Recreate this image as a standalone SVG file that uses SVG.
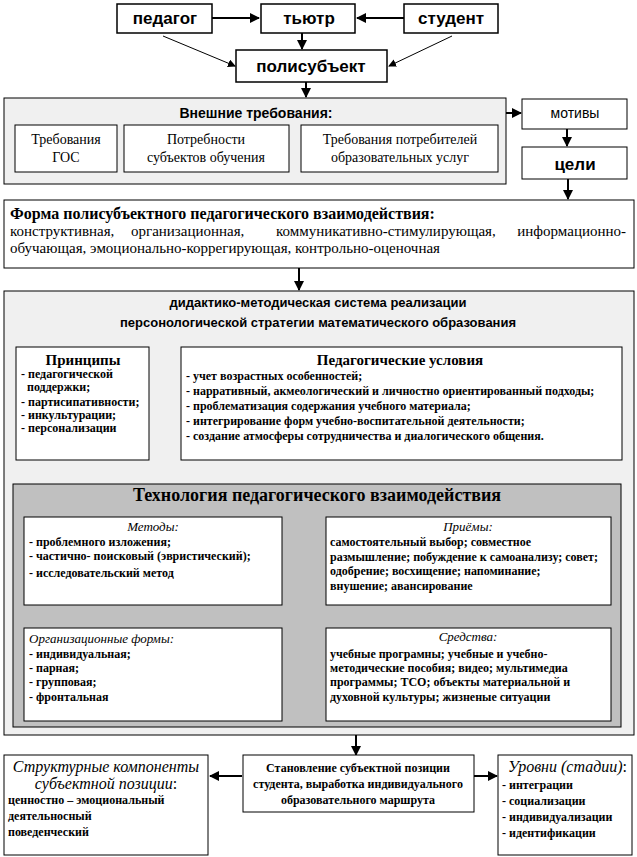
<svg xmlns="http://www.w3.org/2000/svg" width="637" height="857" viewBox="0 0 637 857">
<style>
.bx{fill:#fff;stroke:#000;stroke-width:1}
.bx2{fill:#fff;stroke:#000;stroke-width:1.5}
.lg{fill:#f0f0f0;stroke:#000;stroke-width:1}
.dg{fill:#c0c0c0;stroke:#000;stroke-width:1}
.ab{font-family:"Liberation Sans",Arial,sans-serif;font-weight:bold}
.as{font-family:"Liberation Sans",Arial,sans-serif}
.t{font-family:"Liberation Serif","Times New Roman",serif}
.tb{font-family:"Liberation Serif","Times New Roman",serif;font-weight:bold}
.ti{font-family:"Liberation Serif","Times New Roman",serif;font-style:italic}
.c{text-anchor:middle}
.ln{stroke:#000;stroke-width:1;fill:none}
.lt{stroke:#000;stroke-width:2;fill:none}
</style>
<defs>
<marker id="a" markerWidth="8" markerHeight="8" refX="7" refY="4" orient="auto" markerUnits="userSpaceOnUse"><path d="M0,0 L8,4 L0,8 Z" fill="#000"/></marker>
<marker id="as" markerWidth="8" markerHeight="8" refX="7" refY="4" orient="auto-start-reverse" markerUnits="userSpaceOnUse"><path d="M0,0 L8,4 L0,8 Z" fill="#000"/></marker>
<marker id="ab" markerWidth="10" markerHeight="10" refX="9" refY="5" orient="auto" markerUnits="userSpaceOnUse"><path d="M0,0 L10,5 L0,10 Z" fill="#000"/></marker>
</defs>

<g id="connectors">
<line class="lt" x1="212" y1="18" x2="259" y2="18" marker-end="url(#ab)"/>
<line class="lt" x1="404" y1="18" x2="357" y2="18" marker-end="url(#ab)"/>
<line class="lt" x1="302" y1="33" x2="302" y2="49" marker-end="url(#ab)"/>
<line class="ln" x1="163" y1="36" x2="235" y2="66" marker-end="url(#a)"/>
<line class="ln" x1="452" y1="36" x2="389" y2="66" marker-end="url(#a)"/>
<line class="lt" x1="306" y1="82" x2="306" y2="97" marker-end="url(#ab)"/>
<line class="lt" x1="506" y1="113" x2="521" y2="113" marker-end="url(#ab)"/>
<line class="lt" x1="567" y1="129" x2="567" y2="146" marker-end="url(#ab)"/>
<line class="lt" x1="568" y1="179" x2="568" y2="199" marker-end="url(#ab)"/>
<line class="lt" x1="299" y1="268" x2="299" y2="290" marker-end="url(#ab)"/>
<line class="ln" x1="151" y1="403" x2="180" y2="403" marker-start="url(#as)" marker-end="url(#as)"/>
<line class="ln" x1="67" y1="461" x2="67" y2="483" marker-start="url(#as)" marker-end="url(#as)"/>
<line class="ln" x1="455" y1="461" x2="455" y2="483" marker-start="url(#as)" marker-end="url(#as)"/>
<line class="ln" x1="284" y1="560" x2="325" y2="560" marker-start="url(#as)" marker-end="url(#as)"/>
<line class="ln" x1="134" y1="606" x2="134" y2="627" marker-start="url(#as)" marker-end="url(#as)"/>
<line class="ln" x1="455" y1="606" x2="455" y2="627" marker-start="url(#as)" marker-end="url(#as)"/>
<line class="ln" x1="284" y1="606" x2="325" y2="627" marker-start="url(#as)" marker-end="url(#as)"/>
<line class="ln" x1="325" y1="606" x2="284" y2="627" marker-start="url(#as)" marker-end="url(#as)"/>
<line class="ln" x1="284" y1="682" x2="325" y2="682" marker-start="url(#as)" marker-end="url(#as)"/>
<line class="lt" x1="356" y1="735" x2="356" y2="755" marker-end="url(#ab)"/>
<line class="lt" x1="242" y1="776" x2="210" y2="776" marker-end="url(#ab)"/>
<line class="lt" x1="474" y1="776" x2="497" y2="776" marker-end="url(#ab)"/>
</g>

<g id="pedagog"><rect class="bx2" x="117" y="4" width="95" height="29"/><text class="ab c" x="165" y="24" font-size="17">педагог</text></g>
<g id="tyutor"><rect class="bx2" x="261" y="4" width="94" height="29"/><text class="ab c" x="309" y="24" font-size="17">тьютр</text></g>
<g id="student"><rect class="bx2" x="404" y="4" width="94" height="29"/><text class="ab c" x="451" y="24" font-size="17">студент</text></g>
<g id="polisubject"><rect class="bx2" x="236" y="50" width="151" height="32"/><text class="ab c" x="311" y="72" font-size="17">полисубъект</text></g>

<g id="external">
<rect class="lg" x="4" y="98" width="502" height="86"/>
<text class="ab c" x="256" y="118" font-size="14">Внешние требования:</text>
<rect class="bx" x="15" y="125" width="102" height="47"/>
<text class="t c" x="66" y="144" font-size="14">Требования</text>
<text class="t c" x="66" y="162" font-size="14">ГОС</text>
<rect class="bx" x="124" y="125" width="165" height="47"/>
<text class="t c" x="206" y="144" font-size="14">Потребности</text>
<text class="t c" x="206" y="162" font-size="14">субъектов обучения</text>
<rect class="bx" x="301" y="125" width="197" height="47"/>
<text class="t c" x="400" y="144" font-size="14">Требования потребителей</text>
<text class="t c" x="400" y="162" font-size="14">образовательных услуг</text>
</g>

<g id="motivy"><rect class="bx" x="522" y="99" width="105" height="30"/><text class="as c" x="575" y="118" font-size="14">мотивы</text></g>
<g id="tseli"><rect class="bx" x="522" y="147" width="105" height="32"/><text class="ab c" x="575" y="170" font-size="17">цели</text></g>

<g id="forma">
<rect class="bx" x="4" y="200" width="630" height="68"/>
<text class="tb" x="10" y="219" font-size="16">Форма полисубъектного педагогического взаимодействия:</text>
<text class="t" x="10" y="236" font-size="15">конструктивная,</text>
<text class="t" x="131" y="236" font-size="15">организационная,</text>
<text class="t" x="276" y="236" font-size="15">коммуникативно-стимулирующая,</text>
<text class="t" x="626" y="236" font-size="15" text-anchor="end">информационно-</text>
<text class="t" x="10" y="253" font-size="15">обучающая, эмоционально-коррегирующая, контрольно-оценочная</text>
</g>

<g id="system">
<rect class="lg" x="4" y="291" width="630" height="444"/>
<text class="ab c" x="318" y="307" font-size="13">дидактико-методическая система реализации</text>
<text class="ab c" x="318" y="327" font-size="13">персонологической стратегии математического образования</text>
</g>

<g id="printsipy">
<rect class="bx" x="16" y="347" width="133" height="113"/>
<text class="tb c" x="83" y="365" font-size="15">Принципы</text>
<text class="tb" x="21" y="378" font-size="12">- педагогической</text>
<text class="tb" x="27" y="391" font-size="12">поддержки;</text>
<text class="tb" x="21" y="406" font-size="12">- партисипативности;</text>
<text class="tb" x="21" y="419" font-size="12">- инкультурации;</text>
<text class="tb" x="21" y="432" font-size="12">- персонализации</text>
</g>

<g id="usloviya">
<rect class="bx" x="181" y="347" width="441" height="113"/>
<text class="tb c" x="400" y="365" font-size="15">Педагогические условия</text>
<text class="tb" x="186" y="380" font-size="12">- учет возрастных особенностей;</text>
<text class="tb" x="186" y="395" font-size="12">- нарративный, акмеологический и  личностно ориентированный подходы;</text>
<text class="tb" x="186" y="410" font-size="12">- проблематизация содержания учебного материала;</text>
<text class="tb" x="186" y="425" font-size="12">- интегрирование форм учебно-воспитательной деятельности;</text>
<text class="tb" x="186" y="440" font-size="12">- создание атмосферы сотрудничества и  диалогического общения.</text>
</g>

<g id="tekhnologiya">
<rect class="dg" x="13" y="484" width="608" height="243"/>
<text class="tb c" x="317" y="501" font-size="18">Технология педагогического взаимодействия</text>
</g>

<g id="metody">
<rect class="bx" x="24" y="517" width="258" height="88"/>
<text class="ti c" x="153" y="531" font-size="13">Методы:</text>
<text class="tb" x="29" y="546" font-size="12">- проблемного   изложения;</text>
<text class="tb" x="29" y="560" font-size="12">- частично- поисковый  (эвристический);</text>
<text class="tb" x="29" y="577" font-size="12">- исследовательский метод</text>
</g>

<g id="priemy">
<rect class="bx" x="326" y="517" width="285" height="88"/>
<text class="ti c" x="468" y="531" font-size="13">Приёмы:</text>
<text class="tb" x="330" y="546" font-size="12">самостоятельный выбор; совместное</text>
<text class="tb" x="330" y="561" font-size="12">размышление; побуждение к самоанализу; совет;</text>
<text class="tb" x="330" y="575" font-size="12">одобрение; восхищение; напоминание;</text>
<text class="tb" x="330" y="590" font-size="12">внушение; авансирование</text>
</g>

<g id="orgformy">
<rect class="bx" x="24" y="628" width="258" height="93"/>
<text class="ti" x="29" y="643" font-size="13">Организационные формы:</text>
<text class="tb" x="29" y="658" font-size="12">- индивидуальная;</text>
<text class="tb" x="29" y="672" font-size="12">- парная;</text>
<text class="tb" x="29" y="686" font-size="12">- групповая;</text>
<text class="tb" x="29" y="701" font-size="12">- фронтальная</text>
</g>

<g id="sredstva">
<rect class="bx" x="326" y="628" width="285" height="93"/>
<text class="ti c" x="468" y="641" font-size="13">Средства:</text>
<text class="tb" x="330" y="658" font-size="12">учебные програмны; учебные и учебно-</text>
<text class="tb" x="330" y="672" font-size="12">методические пособия;  видео; мультимедиа</text>
<text class="tb" x="330" y="686" font-size="12">программы; ТСО; объекты материальной и</text>
<text class="tb" x="330" y="701" font-size="12">духовной культуры; жизненые ситуации</text>
</g>

<g id="strukturnye">
<rect class="bx" x="4" y="755" width="204" height="100"/>
<text class="ti c" x="106" y="772" font-size="16">Структурные компоненты</text>
<text class="ti c" x="106" y="789" font-size="16">субъектной позиции<tspan font-style="normal">:</tspan></text>
<text class="tb" x="8" y="804" font-size="12">ценностно – эмоциональный</text>
<text class="tb" x="8" y="820" font-size="12">деятельносный</text>
<text class="tb" x="8" y="836" font-size="12">поведенческий</text>
</g>

<g id="stanovlenie">
<rect class="bx" x="243" y="755" width="231" height="57"/>
<text class="tb c" x="358" y="772" font-size="12">Становление субъектной позиции</text>
<text class="tb c" x="358" y="788" font-size="12">студента, выработка индивидуального</text>
<text class="tb c" x="358" y="804" font-size="12">образовательного маршрута</text>
</g>

<g id="urovni">
<rect class="bx" x="498" y="755" width="134" height="100"/>
<text class="ti" x="508" y="772" font-size="16">Уровни (стадии)<tspan font-style="normal">:</tspan></text>
<text class="tb" x="502" y="789" font-size="12">- интеграции</text>
<text class="tb" x="502" y="805" font-size="12">- социализации</text>
<text class="tb" x="502" y="821" font-size="12">- индивидуализации</text>
<text class="tb" x="502" y="837" font-size="12">- идентификации</text>
</g>
</svg>
